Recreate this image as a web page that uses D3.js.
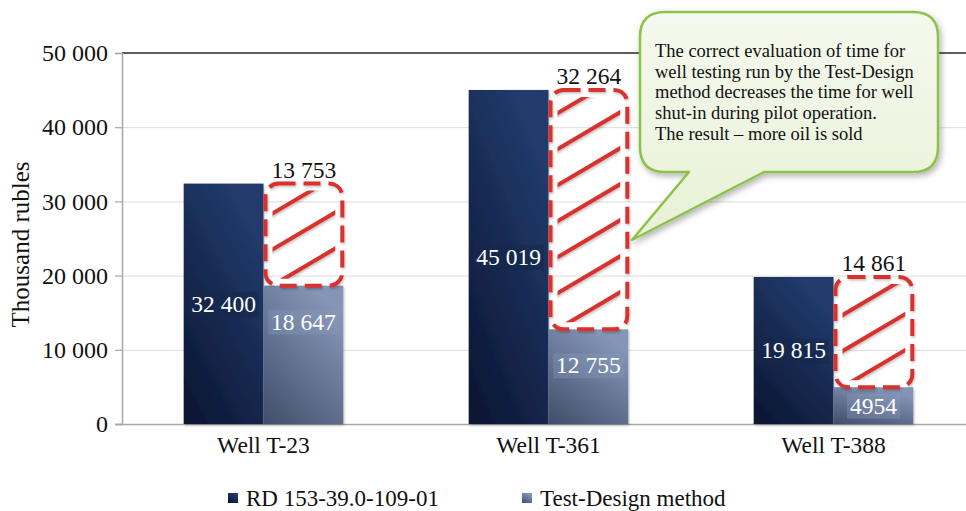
<!DOCTYPE html>
<html>
<head>
<meta charset="utf-8">
<script src="https://cdn.jsdelivr.net/npm/d3@7"></script>
</head>
<body style="margin:0;padding:0;background:#fff">
<script>
// Cost of well testing per well: RD 153-39.0-109-01 vs the Test-Design method
const categories = ["Well T-23", "Well T-361", "Well T-388"];
const seriesNames = ["RD 153-39.0-109-01", "Test-Design method"];
const rdValues = [32400, 45019, 19815];
const testDesignValues = [18647, 12755, 4954];
const savingValues = [13753, 32264, 14861];
const yTicks = [0, 10000, 20000, 30000, 40000, 50000];
const yTitle = "Thousand rubles";
const calloutLines = [
  "The correct evaluation of time for",
  "well testing run by the Test-Design",
  "method decreases the time for well",
  "shut-in during pilot operation.",
  "The result \u2013 more oil is sold"
];

const FONT = "\"Liberation Serif\", serif";
const W = 966, H = 511;
const svg = d3.select("body").append("svg").attr("width", W).attr("height", H)
  .style("display", "block");
const defs = svg.append("defs");

const grouped = d3.formatLocale({ decimal: ".", thousands: " ", grouping: [3], currency: ["", ""] }).format(",d");
const fmt = v => (v >= 10000 ? grouped(v) : String(v));

const x0 = d3.scaleBand().domain(categories).range([121, 976]).paddingInner(0.44).paddingOuter(0.22);
const x1 = d3.scaleBand().domain(seriesNames).range([0, x0.bandwidth()]);
const y = d3.scaleLinear().domain([0, 50000]).range([424, 53]);
const plotLeft = 122, plotRight = 966;

function label(sel, size) {
  return sel.attr("font-family", FONT).style("font-family", FONT).style("font-size", size + "px");
}

// gradients for the two series
function grad(id, c0, c1) {
  const g = defs.append("linearGradient").attr("id", id)
    .attr("x1", "0").attr("y1", "1").attr("x2", "0.6").attr("y2", "0");
  g.append("stop").attr("offset", "0%").attr("stop-color", c0);
  g.append("stop").attr("offset", "100%").attr("stop-color", c1);
}
grad("gRD", "#0a1430", "#213b6c");
grad("gTD", "#414d6a", "#8495b6");
const fills = { [seriesNames[0]]: "url(#gRD)", [seriesNames[1]]: "url(#gTD)" };

const callGrad = defs.append("linearGradient").attr("id", "gCall")
  .attr("x1", "0").attr("y1", "0").attr("x2", "0").attr("y2", "1");
callGrad.append("stop").attr("offset", "0%").attr("stop-color", "#f5f9ee");
callGrad.append("stop").attr("offset", "100%").attr("stop-color", "#e7f1d6");

const shadow = defs.append("filter").attr("id", "shadow").attr("x", "-20%").attr("y", "-20%").attr("width", "140%").attr("height", "140%");
shadow.append("feDropShadow").attr("dx", 2).attr("dy", 3).attr("stdDeviation", 3).attr("flood-color", "#000").attr("flood-opacity", 0.3);

const soft = defs.append("filter").attr("id", "soft").attr("x", "-20%").attr("y", "-20%").attr("width", "140%").attr("height", "140%");
soft.append("feDropShadow").attr("dx", 1).attr("dy", 1.5).attr("stdDeviation", 1.2).attr("flood-color", "#000").attr("flood-opacity", 0.25);

// gridlines
svg.append("g").selectAll("line").data(yTicks.filter(t => t > 0 && t < 50000)).join("line")
  .attr("x1", plotLeft).attr("x2", plotRight)
  .attr("y1", d => y(d) + 0.5).attr("y2", d => y(d) + 0.5)
  .attr("stroke", "#dcdcdc").attr("stroke-width", 1);
svg.append("line").attr("x1", plotLeft).attr("x2", plotRight)
  .attr("y1", y(50000)).attr("y2", y(50000))
  .attr("stroke", "#2a2a2a").attr("stroke-width", 1.6);

// y axis
const yAxis = svg.append("g").attr("transform", `translate(${plotLeft},0)`)
  .call(d3.axisLeft(y).tickValues(yTicks).tickSize(7).tickPadding(7).tickFormat(fmt));
yAxis.attr("font-family", FONT).attr("font-size", 24);
yAxis.select(".domain").attr("stroke", "#a6a6a6").attr("stroke-width", 1.5);
yAxis.selectAll(".tick line").attr("stroke", "#a6a6a6").attr("stroke-width", 1.2);
label(yAxis.selectAll(".tick text"), 24).attr("fill", "#111");

// baseline
svg.append("line").attr("x1", plotLeft - 7).attr("x2", plotRight)
  .attr("y1", y(0) + 0.5).attr("y2", y(0) + 0.5)
  .attr("stroke", "#a6a6a6").attr("stroke-width", 1.5);

// y title
label(svg.append("text"), 25)
  .attr("transform", `translate(29,${(y(0) + y(50000)) / 2 + 6}) rotate(-90)`)
  .attr("text-anchor", "middle").attr("fill", "#111").text(yTitle);

// bars
const rows = categories.map((c, i) => ({
  cat: c, rd: rdValues[i], td: testDesignValues[i], saving: savingValues[i]
}));

const groups = svg.append("g").selectAll("g").data(rows).join("g")
  .attr("transform", d => `translate(${x0(d.cat)},0)`);

groups.selectAll("rect.bar")
  .data(d => [{ s: seriesNames[0], v: d.rd }, { s: seriesNames[1], v: d.td }])
  .join("rect").attr("class", "bar")
  .attr("x", d => x1(d.s)).attr("width", x1.bandwidth())
  .attr("y", d => y(d.v)).attr("height", d => y(0) - y(d.v))
  .attr("fill", d => fills[d.s])
  .attr("filter", "url(#soft)");

// hatched boxes for the saving (from Test-Design top up to RD top)
const red = "#d7332f";
groups.each(function (d, i) {
  const g = d3.select(this);
  const bx = x1(seriesNames[1]) + 2, bw = x1.bandwidth() - 3;
  const top = y(d.td + d.saving), bottom = y(d.td);
  const clipId = "clip" + i;
  defs.append("clipPath").attr("id", clipId)
    .append("rect").attr("x", x0(d.cat) + bx + 7).attr("y", top + 7)
    .attr("width", bw - 14).attr("height", bottom - top - 14).attr("rx", 6);
  const slope = 0.59, step = 36;
  const offsets = d3.range(0, bottom - top + bw * slope + step, step);
  const hatch = svg.append("g").attr("clip-path", `url(#${clipId})`).attr("filter", "url(#soft)");
  const gx = x0(d.cat) + bx;
  hatch.selectAll("line").data(offsets).join("line")
    .attr("x1", gx).attr("y1", o => bottom - o + 4)
    .attr("x2", gx + bw).attr("y2", o => bottom - o + 4 - bw * slope)
    .attr("stroke", red).attr("stroke-width", 4).attr("stroke-linecap", "round");
  g.append("rect").attr("x", bx).attr("y", top).attr("width", bw).attr("height", bottom - top)
    .attr("rx", 13).attr("fill", "none").attr("stroke", red).attr("stroke-width", 4)
    .attr("stroke-dasharray", "17 8").attr("filter", "url(#soft)");
  // saving label above the box
  label(g.append("text"), 23.5).attr("x", bx + bw / 2).attr("y", top - 6).attr("text-anchor", "middle")
    .attr("fill", "#111").text(fmt(d.saving));
});

// value labels inside the bars
groups.each(function (d) {
  const g = d3.select(this);
  const items = [
    { s: seriesNames[0], v: d.rd, ty: (y(d.rd) + y(0)) / 2, bg: "#16284d", op: 0.55 },
    { s: seriesNames[1], v: d.td, ty: Math.min(y(d.td) + 36, (y(d.td) + y(0)) / 2), bg: "#8a9bbc", op: 0.35 }
  ];
  items.forEach(it => {
    const cx = x1(it.s) + x1.bandwidth() / 2;
    const t = label(g.append("text"), 23.5).attr("x", cx).attr("y", it.ty + 8).attr("text-anchor", "middle")
      .attr("fill", "#fff").text(fmt(it.v));
    const bb = t.node().getBBox();
    g.insert("rect", () => t.node()).attr("x", bb.x - 3).attr("y", bb.y + 1)
      .attr("width", bb.width + 6).attr("height", bb.height - 1)
      .attr("fill", it.bg).attr("opacity", it.op);
  });
});

// category labels
label(svg.append("g").selectAll("text").data(categories).join("text"), 23.5)
  .attr("x", d => x0(d) + x0.bandwidth() / 2).attr("y", 453)
  .attr("text-anchor", "middle").attr("fill", "#111").text(d => d);

// legend
const legendX = [228, 522];
const leg = svg.append("g").selectAll("g").data(seriesNames).join("g")
  .attr("transform", (d, i) => `translate(${legendX[i]},493)`);
leg.append("rect").attr("width", 10).attr("height", 10).attr("fill", d => fills[d]);
label(leg.append("text"), 23).attr("x", 18).attr("y", 13).attr("fill", "#111").text(d => d);

// callout
const cl = 640, cr = 938, ct = 12, cb = 172, r = 25;
const tip = [632, 240];
const calloutPath = d3.path();
calloutPath.moveTo(cl + r, ct);
calloutPath.lineTo(cr - r, ct);
calloutPath.quadraticCurveTo(cr, ct, cr, ct + r);
calloutPath.lineTo(cr, cb - r);
calloutPath.quadraticCurveTo(cr, cb, cr - r, cb);
calloutPath.lineTo(764, cb);
calloutPath.lineTo(tip[0], tip[1]);
calloutPath.lineTo(689, cb);
calloutPath.lineTo(cl + r, cb);
calloutPath.quadraticCurveTo(cl, cb, cl, cb - r);
calloutPath.lineTo(cl, ct + r);
calloutPath.quadraticCurveTo(cl, ct, cl + r, ct);
calloutPath.closePath();
svg.append("path").attr("d", calloutPath.toString())
  .attr("fill", "url(#gCall)").attr("stroke", "#8cc24a").attr("stroke-width", 2.5)
  .attr("stroke-linejoin", "round").attr("filter", "url(#shadow)");
label(svg.append("g").selectAll("text").data(calloutLines).join("text"), 18.5)
  .attr("x", 655).attr("y", (d, i) => 57 + i * 20.7)
  .attr("fill", "#111").text(d => d);
</script>
</body>
</html>
